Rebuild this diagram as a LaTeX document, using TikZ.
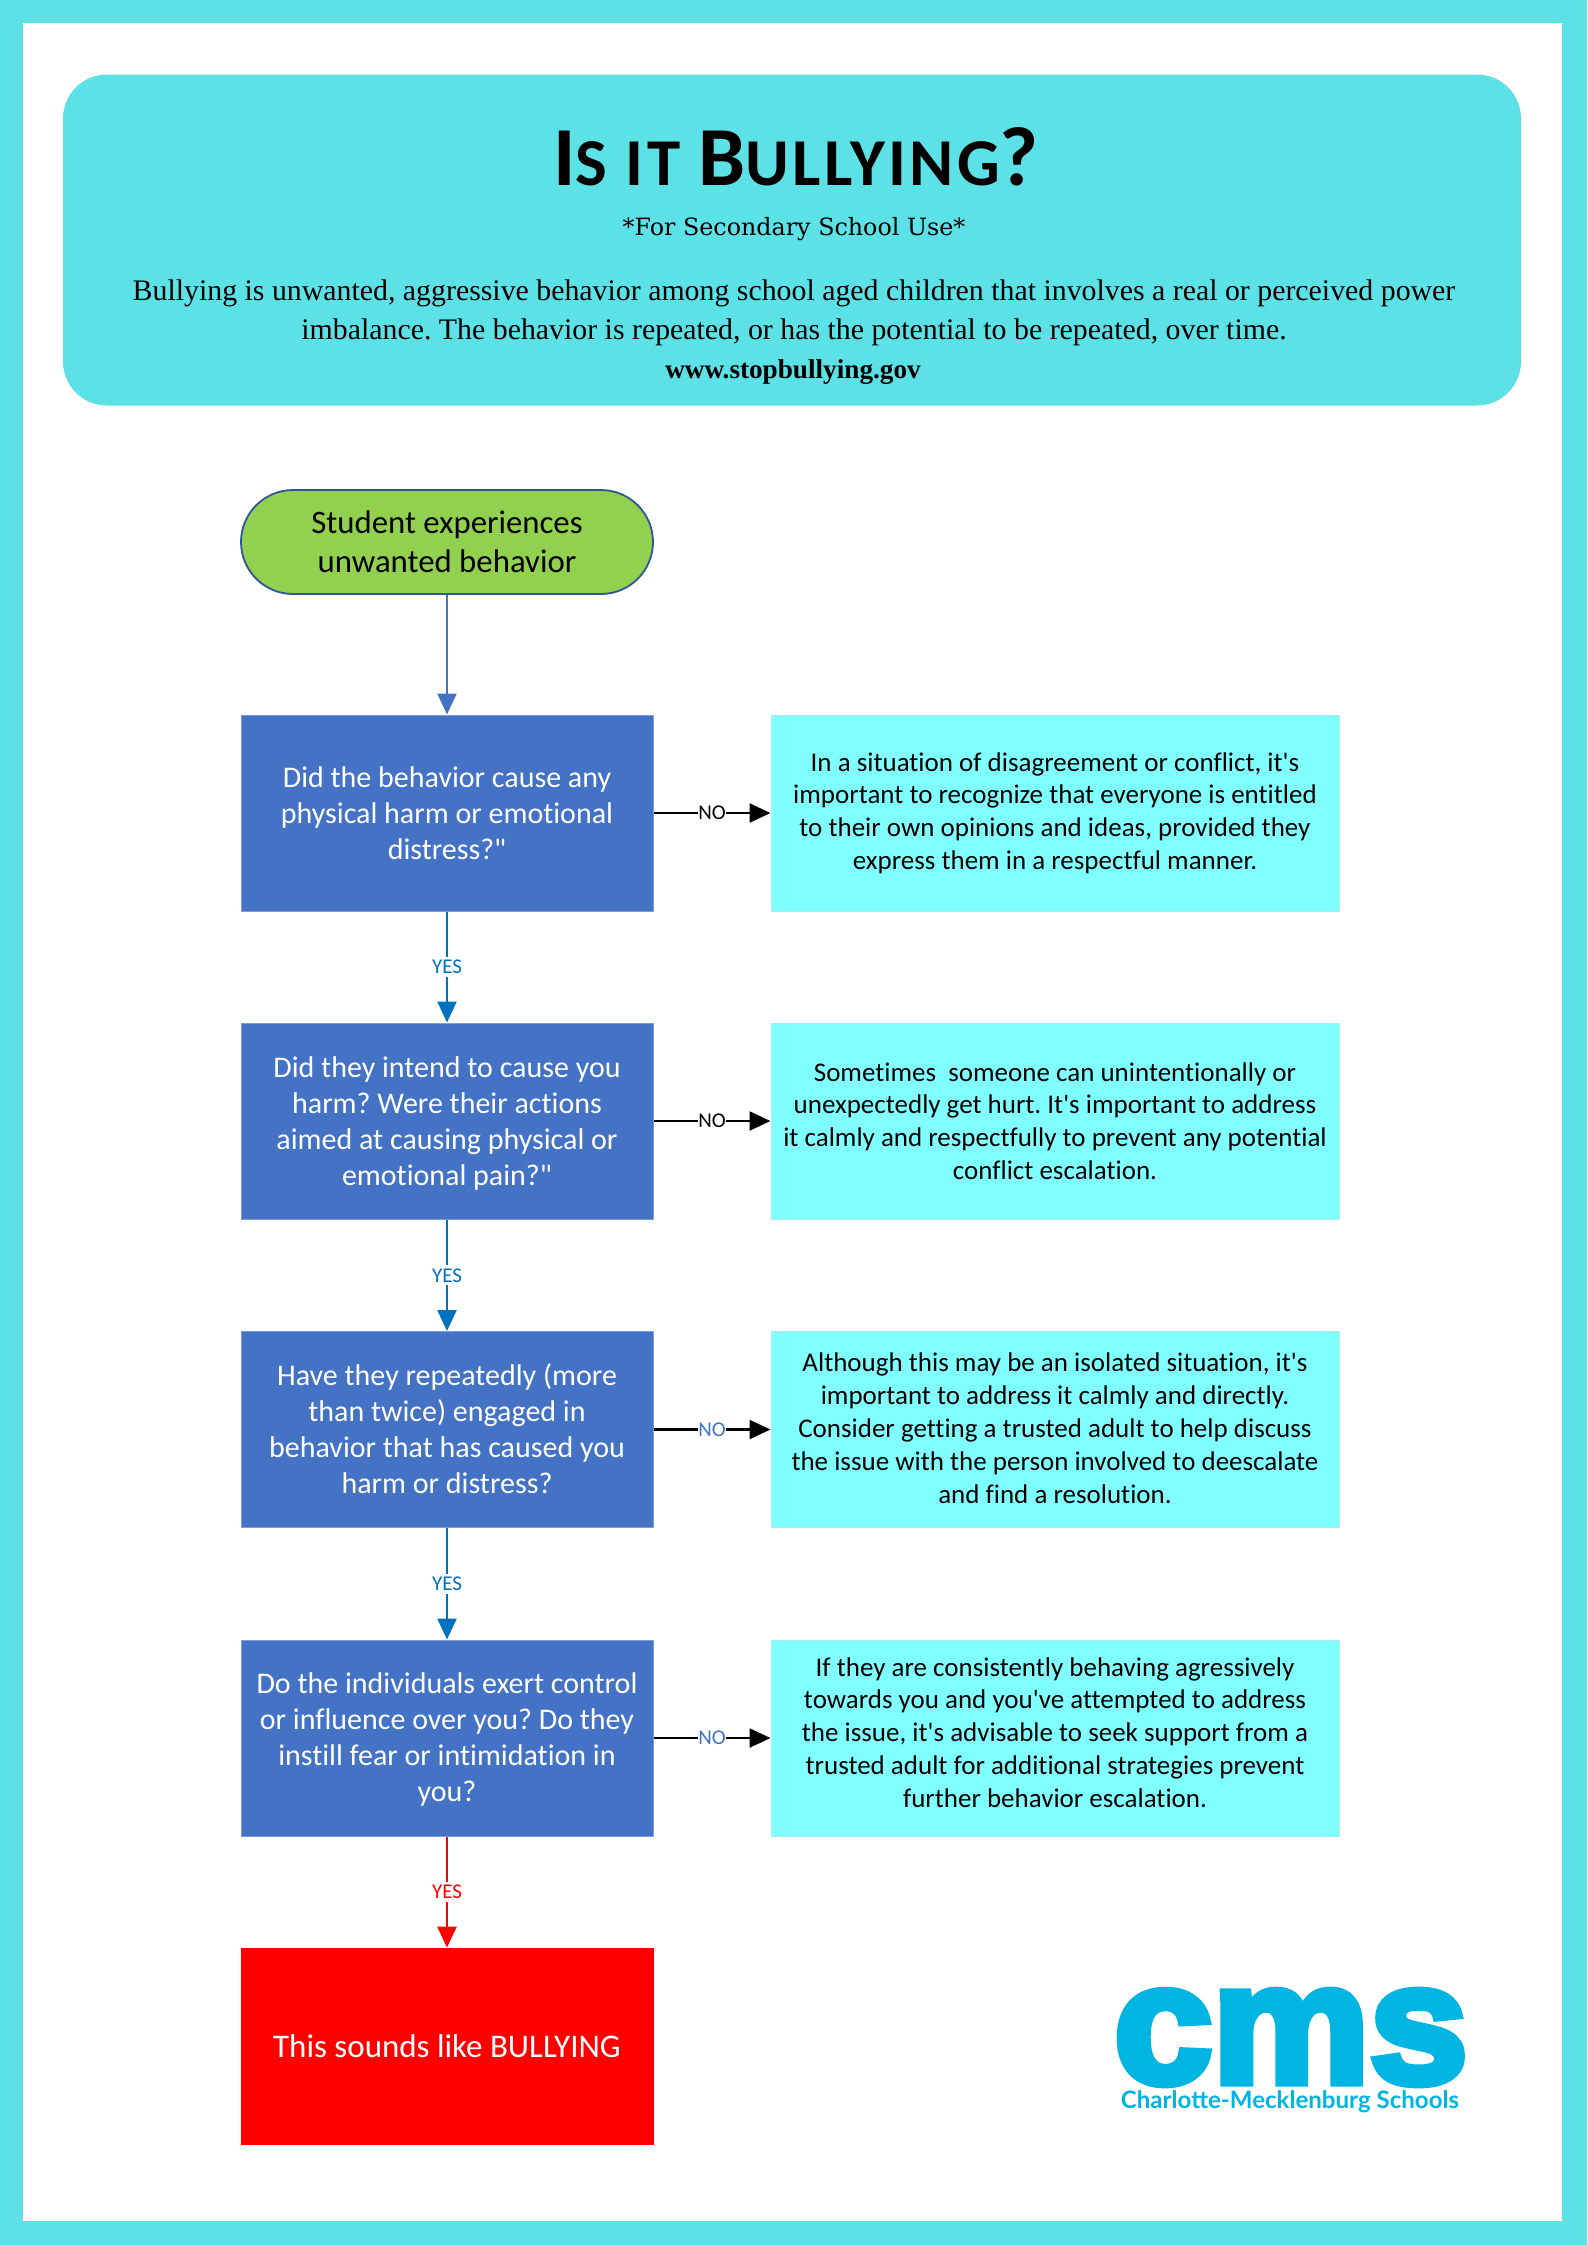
\documentclass[tikz,border=0pt]{standalone}
\usepackage{fontspec}
\usetikzlibrary{arrows.meta}
\newfontfamily\calfont[Ligatures=NoCommon]{Carlito}
\newfontfamily\titlefont[LetterSpace=5,Ligatures=NoCommon]{Carlito}
\newfontfamily\serifbody{Liberation Serif}
\newfontfamily\slabfont{DejaVu Serif}
\newfontfamily\heavyfont[FakeBold=5,FakeStretch=1.04]{Liberation Sans Bold}
\newfontfamily\logofont{Lato}
\definecolor{frameteal}{HTML}{5CE1E6}
\definecolor{startgreen}{HTML}{92D050}
\definecolor{qblue}{HTML}{4472C4}
\definecolor{startedge}{HTML}{2F5597}
\definecolor{ansaqua}{HTML}{7FFFFF}
\definecolor{ansedge}{HTML}{A5EEEE}
\definecolor{yesblue}{HTML}{0070C0}
\definecolor{logoblue}{HTML}{00B5E2}
\tikzset{
  x=0.5pt,y=-0.5pt,
  qbox/.style={draw=qblue!70!white,line width=0.5pt,fill=qblue,text=white,minimum width=206pt,minimum height=98pt,inner sep=0pt,align=center,font=\calfont\frenchspacing\fontsize{15}{18}\selectfont},
  ansbox/.style={draw=ansedge,line width=0.5pt,fill=ansaqua,text=black,minimum width=284pt,minimum height=98pt,inner sep=0pt,align=center,font=\calfont\frenchspacing\fontsize{13.5}{16.4}\selectfont},
  startbox/.style={draw=startedge,line width=0.9pt,fill=startgreen,text=black,rounded corners=26pt,minimum width=206pt,minimum height=52pt,inner sep=0pt,align=center,font=\calfont\fontsize{16.4}{19.3}\selectfont},
  stopbox/.style={draw=red,fill=red,text=white,minimum width=206pt,minimum height=98pt,inner sep=0pt,align=center,font=\calfont\fontsize{16.5}{18}\selectfont},
  flow/.style={line width=1.2pt,-{Triangle[length=10.5pt,width=9.5pt]}},
  lab/.style={fill=white,inner xsep=0.3pt,inner ysep=1.5pt,font=\calfont\fontsize{10.5}{12}\selectfont},
}
\begin{document}
\begin{tikzpicture}
\useasboundingbox (0,0) rectangle (1587,2245);
\fill[frameteal] (0,0) rectangle (1587,2245);
\fill[white] (23,23) rectangle (1562,2221);
\node[fill=frameteal,rounded corners=22pt,minimum width=729pt,minimum height=165.5pt,inner sep=0pt] (banner) at (792,240) {};
\node[font=\titlefont\bfseries\fontsize{42}{42}\selectfont,inner sep=0pt,anchor=center] (title) at (796,157) {I\fontsize{33.5}{42}\selectfont S IT \fontsize{42}{42}\selectfont B\fontsize{33.5}{42}\selectfont ULLYING\fontsize{42}{42}\selectfont ?};
\node[font=\slabfont\fontsize{11.9}{16}\selectfont,inner sep=0pt] (sub) at (794,229) {*For Secondary School Use*};
\node[font=\serifbody\frenchspacing\fontsize{14.92}{19.3}\selectfont,align=center,inner sep=0pt] (def) at (794,313) {Bullying is unwanted, aggressive behavior among school aged children that involves a real or perceived power\\imbalance. The behavior is repeated, or has the potential to be repeated, over time.};
\node[font=\serifbody\bfseries\fontsize{13.6}{16}\selectfont,inner sep=0pt] (url) at (793,372) {www.stopbullying.gov};

\node[startbox] (start) at (447,542) {Student experiences\\unwanted behavior};
\node[qbox] (q1) at (447,813) {Did the behavior cause any\\physical harm or emotional\\distress?"};
\node[qbox] (q2) at (447,1121) {\rule{0pt}{13.1pt}Did they intend to cause you\\harm? Were their actions\\aimed at causing physical or\\emotional pain?"};
\node[qbox] (q3) at (447,1429.5) {Have they repeatedly (more\\than twice) engaged in\\behavior that has caused you\\harm or distress?\rule[-1.4pt]{0pt}{0pt}};
\node[qbox] (q4) at (447,1738) {\rule{0pt}{11.6pt}Do the individuals exert control\\or influence over you? Do they\\instill fear or intimidation in\\you?};
\node[stopbox] (stop) at (447,2046) {This sounds like BULLYING};

\node[ansbox] (a1) at (1055,813) {In a situation of disagreement or conflict, it's\\important to recognize that everyone is entitled\\to their own opinions and ideas, provided they\\express them in a respectful manner.};
\node[ansbox] (a2) at (1055,1121) {Sometimes\ \ someone can unintentionally or\\unexpectedly get hurt. It's important to address\\it calmly and respectfully to prevent any potential\\conflict escalation.};
\node[ansbox] (a3) at (1055,1429.5) {Although this may be an isolated situation, it's\\important to address it calmly and directly.\\Consider getting a trusted adult to help discuss\\the issue with the person involved to deescalate\\and find a resolution.\rule[-1.4pt]{0pt}{0pt}};
\node[ansbox] (a4) at (1055,1738) {If they are consistently behaving agressively\\towards you and you've attempted to address\\the issue, it's advisable to seek support from a\\trusted adult for additional strategies prevent\\further behavior escalation.\rule[-5.8pt]{0pt}{0pt}};

\draw[flow,qblue] (start) -- (q1);
\draw[flow,yesblue] (q1) -- node[lab,text=yesblue]{YES} (q2);
\draw[flow,yesblue] (q2) -- node[lab,text=yesblue]{YES} (q3);
\draw[flow,yesblue] (q3) -- node[lab,text=yesblue]{YES} (q4);
\draw[flow,red] (q4) -- node[lab,text=red]{YES} (stop);
\draw[flow,black] (q1) -- node[lab,text=black]{NO} (a1);
\draw[flow,black] (q2) -- node[lab,text=black]{NO} (a2);
\draw[flow,black] (q3) -- node[lab,text=qblue]{NO} (a3);
\draw[flow,black] (q4) -- node[lab,text=qblue]{NO} (a4);

\node[font=\heavyfont\fontsize{85}{85}\selectfont,text=logoblue,inner sep=0pt] (cms) at (1291,2037.5) {cms};
\node[font=\logofont\bfseries\fontsize{12.03}{14}\selectfont,text=logoblue,inner sep=0pt] (cmsname) at (1290,2101.5) {Charlotte-Mecklenburg Schools};
\end{tikzpicture}
\end{document}
